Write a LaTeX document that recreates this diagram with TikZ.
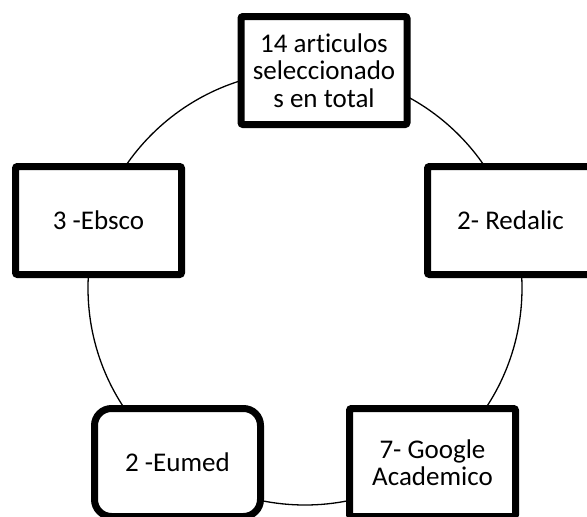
\documentclass[tikz,border=0pt]{standalone}
\usepackage{fontspec}
\setmainfont[Ligatures=NoCommon]{Carlito}
\usetikzlibrary{shadows}
\begin{document}
\begin{tikzpicture}[x=1pt,y=-1pt,
caja/.style={draw=black, fill=white, line width=7pt, rounded corners=2pt,
  minimum width=166pt, minimum height=108pt, align=center,
  font=\fontsize{27}{27.5}\selectfont,
  drop shadow={opacity=0.2, shadow xshift=2pt, shadow yshift=-2pt}},
cajared/.style={caja, rounded corners=17pt}]
\clip (0,0) rectangle (587,517);
\fill[white] (0,0) rectangle (587,517);
\draw[line width=1.3pt] (305,288) circle (217);
\node[caja] (total) at (324,70.5) {14 articulos\\seleccionado\\s en total};
\node[caja] (ebsco) at (98.5,220.5) {3 -Ebsco};
\node[caja] (redalic) at (510.5,220.5) {2- Redalic};
\node[cajared] (eumed) at (177.5,462.5) {2 -Eumed};
\node[caja] (google) at (432.5,462.5) {7- Google\\Academico};
\end{tikzpicture}
\end{document}
